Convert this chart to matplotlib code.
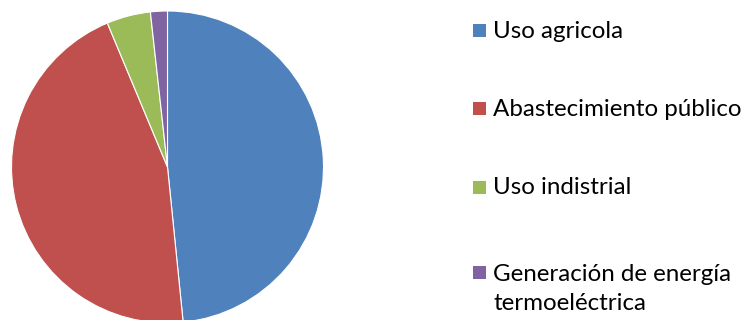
import matplotlib
matplotlib.use("Agg")
import matplotlib.pyplot as plt
from matplotlib.patches import Rectangle

# Water use by sector (percent of total)
labels = ["Uso agricola", "Abastecimiento público", "Uso indistrial",
          "Generación de energía\ntermoeléctrica"]
values = [48.4, 45.3, 4.55, 1.75]
colors = ["#4F81BD", "#C0504D", "#9BBB59", "#8064A2"]

W, H = 751, 320
fig = plt.figure(figsize=(W / 100, H / 100), dpi=100)
ax = fig.add_axes([0, 0, 1, 1])
ax.set_xlim(0, W)
ax.set_ylim(0, H)
ax.set_aspect("equal")
ax.axis("off")

ax.pie(values, colors=colors, startangle=90, counterclock=False,
       center=(167.5, H - 167), radius=156,
       wedgeprops=dict(edgecolor="white", linewidth=0.8))
ax.set_xlim(0, W)
ax.set_ylim(0, H)

# Legend drawn as swatches with labels; wrapped labels keep the swatch on line one
row_y = [30, 108, 187, 272]
line_gap = 30
for lab, col, y in zip(labels, colors, row_y):
    yy = H - y
    ax.add_patch(Rectangle((472.5, yy - 6.5), 13, 13, facecolor=col, edgecolor="none"))
    n = lab.count("\n")
    ax.text(493, yy - 7.5 - n * line_gap, lab, ha="left", va="baseline",
            fontsize=17.4, family="Lato", color="black", linespacing=1.47)

fig.savefig("out.png", dpi=100)
